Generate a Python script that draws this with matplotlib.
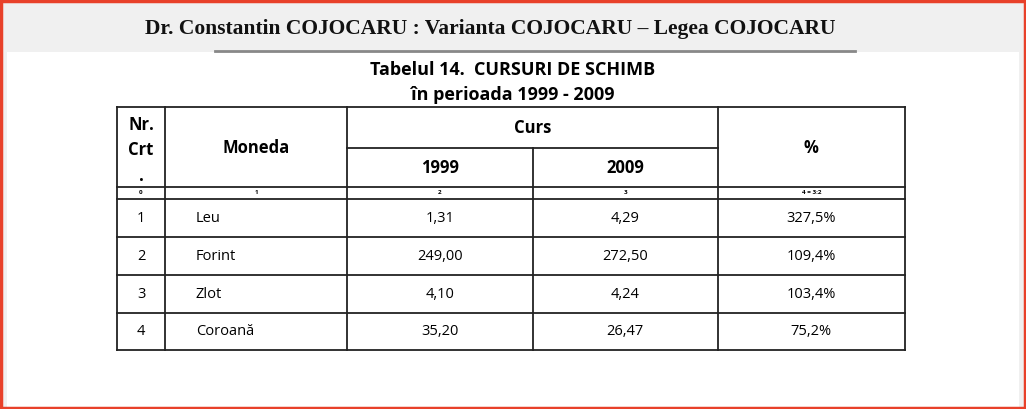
import matplotlib
matplotlib.use("Agg")
import matplotlib.pyplot as plt
from matplotlib.patches import Rectangle

header = "Dr. Constantin COJOCARU : Varianta COJOCARU – Legea COJOCARU"
title1 = "Tabelul 14.  CURSURI DE SCHIMB"
title2 = "în perioada 1999 - 2009"
nr = ["1", "2", "3", "4"]
moneda = ["Leu", "Forint", "Zlot", "Coroană"]
curs_1999 = ["1,31", "249,00", "4,10", "35,20"]
curs_2009 = ["4,29", "272,50", "4,24", "26,47"]
procent = ["327,5%", "109,4%", "103,4%", "75,2%"]
index_row = ["0", "1", "2", "3", "4 = 3:2"]

W, H = 1026, 409
fig = plt.figure(figsize=(W/100, H/100), dpi=100)
ax = fig.add_axes([0, 0, 1, 1])
ax.set_xlim(0, W); ax.set_ylim(H, 0); ax.axis("off")

ax.add_patch(Rectangle((0, 0), W, H, facecolor="#f0f0f0", edgecolor="none"))
ax.add_patch(Rectangle((7, 52), W-14, H-52, facecolor="white", edgecolor="none"))
ax.add_patch(Rectangle((1, 1), W-2, H-2, facecolor="none", edgecolor="#e8412a", lw=2.5))
ax.plot([215, 855], [51, 51], color="#888888", lw=2)
ax.text(490, 29, header, ha="center", va="center", fontsize=15.5, fontweight="bold",
        family="Liberation Serif", color="#111111")

tf = "Open Sans"
ax.text(513, 70, title1, ha="center", va="center", fontsize=13, fontweight="bold", family=tf)
ax.text(513, 95, title2, ha="center", va="center", fontsize=13, fontweight="bold", family=tf)

xs = [117, 165, 347, 533, 718, 905]
top, curs_y, hdr_b, idx_b = 107, 148, 187, 199
row_b = [237, 275, 313, 350]
lk = dict(color="#222222", lw=1.3)
ax.plot([xs[0], xs[-1]], [top, top], **lk)
ax.plot([xs[2], xs[4]], [curs_y, curs_y], **lk)
ax.plot([xs[0], xs[-1]], [hdr_b, hdr_b], **lk)
ax.plot([xs[0], xs[-1]], [idx_b, idx_b], **lk)
for y in row_b:
    ax.plot([xs[0], xs[-1]], [y, y], **lk)
for i, x in enumerate(xs):
    if i == 3:
        ax.plot([x, x], [curs_y, row_b[-1]], **lk)
    else:
        ax.plot([x, x], [top, row_b[-1]], **lk)

hf = dict(fontsize=12, fontweight="bold", family=tf, ha="center", va="center")
ax.text(141, 125, "Nr.", **hf)
ax.text(141, 150, "Crt", **hf)
ax.text(141, 176, ".", **hf)
ax.text(256, 148, "Moneda", **hf)
ax.text(533, 128, "Curs", **hf)
ax.text(440, 168, "1999", **hf)
ax.text(625, 168, "2009", **hf)
ax.text(811, 148, "%", **hf)

for i, s in enumerate(index_row):
    ax.text((xs[i]+xs[i+1])/2, 193, s, fontsize=4.5, fontweight="bold", family=tf,
            ha="center", va="center")

bf = dict(fontsize=10.5, family=tf, va="center")
prev = idx_b
for i in range(len(nr)):
    yc = (prev + row_b[i]) / 2
    ax.text(141, yc, nr[i], ha="center", **bf)
    ax.text(196, yc, moneda[i], ha="left", **bf)
    ax.text(440, yc, curs_1999[i], ha="center", **bf)
    ax.text(625, yc, curs_2009[i], ha="center", **bf)
    ax.text(811, yc, procent[i], ha="center", **bf)
    prev = row_b[i]

fig.savefig("out.png", dpi=100)
